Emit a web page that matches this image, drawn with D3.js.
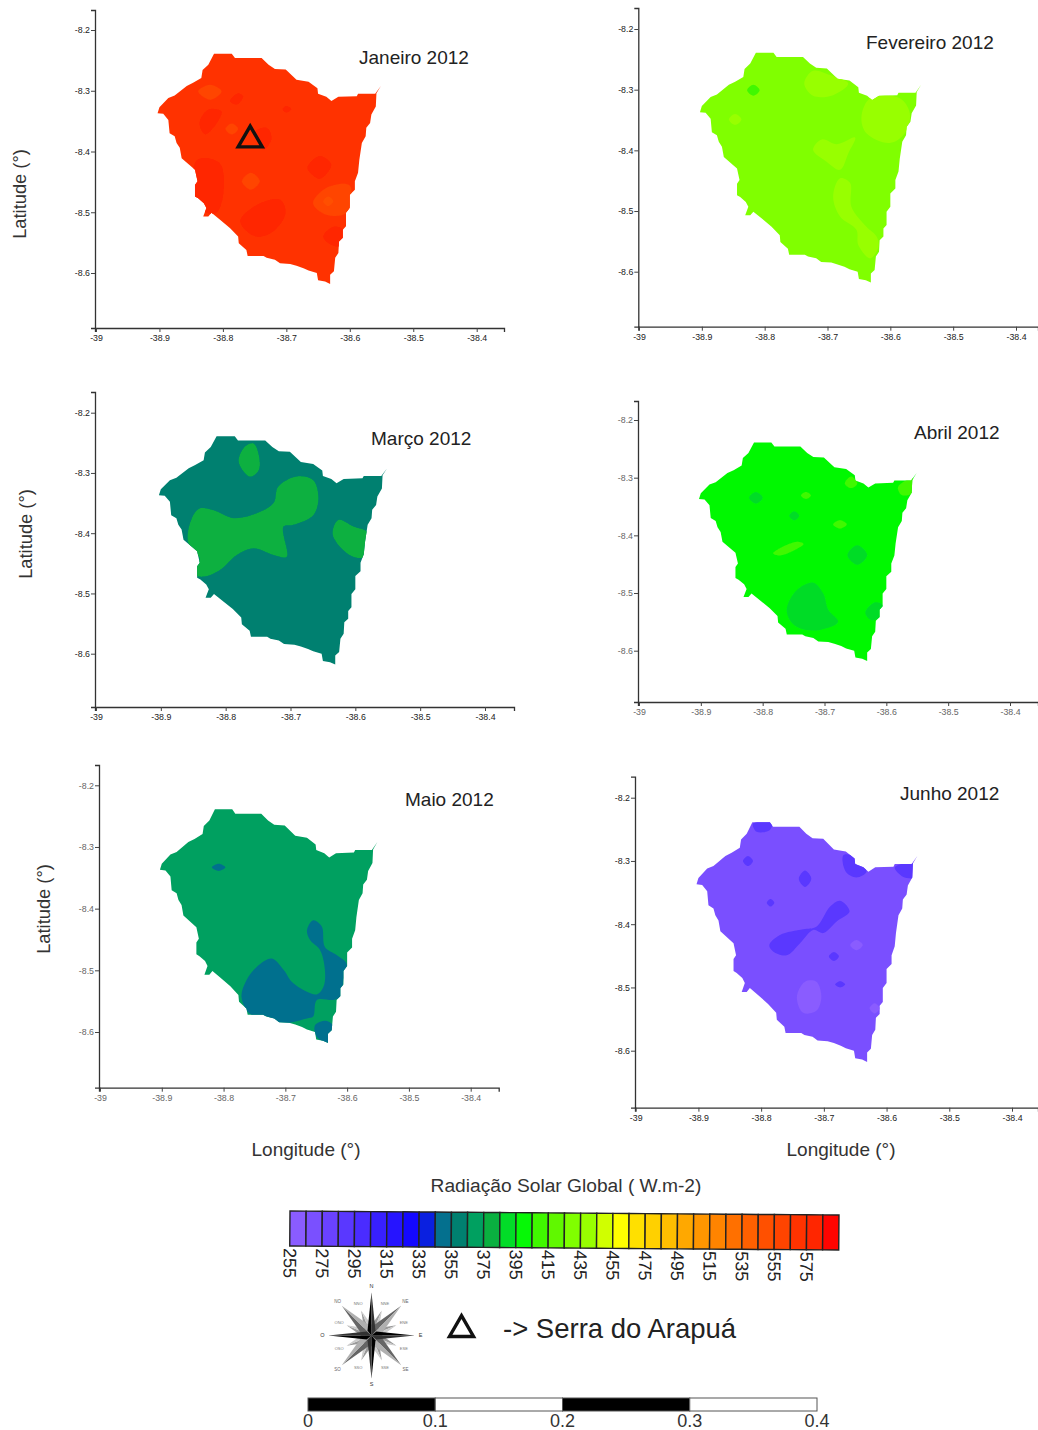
<!DOCTYPE html>
<html>
<head>
<meta charset="utf-8">
<script src="https://cdn.jsdelivr.net/npm/d3@7"></script>
<style>
body { margin: 0; background: #fff; }
text { font-family: "Liberation Sans", Arial, sans-serif; }
</style>
</head>
<body>
<div id="chart"></div>
<script>
var lonTicks = [-39, -38.9, -38.8, -38.7, -38.6, -38.5, -38.4];
var latTicks = [-8.2, -8.3, -8.4, -8.5, -8.6];

// municipality border, [lon, lat]
var outline = [
    [-38.814, -8.239], [-38.786, -8.239], [-38.781, -8.246], [-38.739, -8.246], [-38.728, -8.257],
    [-38.718, -8.264], [-38.701, -8.265], [-38.684, -8.282], [-38.665, -8.285], [-38.651, -8.296],
    [-38.650, -8.305], [-38.637, -8.310], [-38.629, -8.317], [-38.618, -8.310], [-38.589, -8.309],
    [-38.587, -8.305], [-38.560, -8.305], [-38.551, -8.292], [-38.558, -8.304], [-38.559, -8.326],
    [-38.566, -8.339], [-38.568, -8.353], [-38.574, -8.361], [-38.575, -8.375], [-38.581, -8.386],
    [-38.585, -8.414], [-38.587, -8.435], [-38.592, -8.449], [-38.592, -8.463], [-38.600, -8.471],
    [-38.600, -8.493], [-38.606, -8.501], [-38.606, -8.523], [-38.611, -8.529], [-38.611, -8.542],
    [-38.617, -8.548], [-38.618, -8.567], [-38.623, -8.575], [-38.625, -8.597], [-38.631, -8.603],
    [-38.631, -8.618], [-38.639, -8.614], [-38.650, -8.612], [-38.652, -8.600], [-38.665, -8.596],
    [-38.673, -8.592], [-38.684, -8.588], [-38.694, -8.585], [-38.710, -8.584], [-38.718, -8.578],
    [-38.731, -8.575], [-38.736, -8.572], [-38.761, -8.572], [-38.763, -8.562], [-38.775, -8.551],
    [-38.776, -8.540], [-38.789, -8.526], [-38.805, -8.512], [-38.818, -8.501], [-38.823, -8.507],
    [-38.831, -8.507], [-38.826, -8.493], [-38.830, -8.485], [-38.839, -8.477], [-38.844, -8.474],
    [-38.844, -8.455], [-38.840, -8.449], [-38.844, -8.430], [-38.865, -8.411], [-38.868, -8.394],
    [-38.873, -8.386], [-38.876, -8.375], [-38.884, -8.370], [-38.886, -8.348], [-38.894, -8.338],
    [-38.903, -8.337], [-38.900, -8.327], [-38.886, -8.312], [-38.876, -8.308], [-38.857, -8.292],
    [-38.847, -8.287], [-38.834, -8.279], [-38.832, -8.266], [-38.823, -8.257]
];

var monthNames = ["Janeiro 2012", "Fevereiro 2012", "Março 2012", "Abril 2012", "Maio 2012", "Junho 2012"];
var monthBase = [570, 430, 360, 400, 370, 270];

// contour patches for every month, value in W.m-2 and border as [lon, lat]
var janeiroPatches = [
    { value: 560, points: [[-38.839, -8.301], [-38.820, -8.290], [-38.802, -8.301], [-38.820, -8.315]] },
    { value: 580, points: [[-38.837, -8.353], [-38.823, -8.331], [-38.802, -8.334], [-38.815, -8.361], [-38.828, -8.372]] },
    { value: 580, points: [[-38.789, -8.317], [-38.776, -8.304], [-38.768, -8.309], [-38.778, -8.323]] },
    { value: 580, points: [[-38.706, -8.330], [-38.700, -8.325], [-38.692, -8.330], [-38.700, -8.336]] },
    { value: 560, points: [[-38.796, -8.363], [-38.786, -8.354], [-38.776, -8.363], [-38.786, -8.372]] },
    { value: 580, points: [[-38.749, -8.367], [-38.731, -8.361], [-38.723, -8.378], [-38.736, -8.397]] },
    { value: 580, points: [[-38.667, -8.427], [-38.647, -8.407], [-38.629, -8.422], [-38.647, -8.445]] },
    { value: 560, points: [[-38.770, -8.449], [-38.756, -8.435], [-38.742, -8.449], [-38.756, -8.463]] },
    { value: 580, points: [[-38.841, -8.414], [-38.805, -8.419], [-38.799, -8.468], [-38.810, -8.501], [-38.826, -8.501], [-38.844, -8.474]] },
    { value: 580, points: [[-38.773, -8.515], [-38.747, -8.488], [-38.710, -8.479], [-38.701, -8.501], [-38.721, -8.532], [-38.749, -8.540]] },
    { value: 560, points: [[-38.658, -8.485], [-38.637, -8.460], [-38.600, -8.456], [-38.605, -8.501], [-38.637, -8.504]] },
    { value: 550, points: [[-38.642, -8.482], [-38.634, -8.474], [-38.626, -8.482], [-38.634, -8.490]] },
    { value: 580, points: [[-38.642, -8.540], [-38.626, -8.524], [-38.610, -8.529], [-38.616, -8.556], [-38.634, -8.551]] }
];
var fevereiroPatches = [
    { value: 440, points: [[-38.737, -8.290], [-38.723, -8.269], [-38.696, -8.276], [-38.667, -8.290], [-38.691, -8.309], [-38.723, -8.310]] },
    { value: 410, points: [[-38.828, -8.301], [-38.818, -8.292], [-38.808, -8.301], [-38.818, -8.310]] },
    { value: 440, points: [[-38.857, -8.349], [-38.847, -8.340], [-38.837, -8.349], [-38.847, -8.358]] },
    { value: 440, points: [[-38.646, -8.345], [-38.632, -8.314], [-38.585, -8.314], [-38.569, -8.339], [-38.577, -8.372], [-38.601, -8.388], [-38.638, -8.372]] },
    { value: 440, points: [[-38.723, -8.399], [-38.709, -8.382], [-38.685, -8.390], [-38.656, -8.379], [-38.667, -8.405], [-38.680, -8.432], [-38.701, -8.419]] },
    { value: 440, points: [[-38.691, -8.476], [-38.680, -8.446], [-38.664, -8.454], [-38.662, -8.493], [-38.638, -8.526], [-38.622, -8.542], [-38.619, -8.559], [-38.632, -8.578], [-38.651, -8.556], [-38.654, -8.531], [-38.680, -8.509]] }
];
var marcoPatches = [
    { value: 380, points: [[-38.780, -8.279], [-38.770, -8.256], [-38.757, -8.251], [-38.749, -8.270], [-38.749, -8.295], [-38.762, -8.306], [-38.774, -8.295]] },
    { value: 380, points: [[-38.852, -8.375], [-38.840, -8.359], [-38.819, -8.362], [-38.788, -8.375], [-38.752, -8.367], [-38.726, -8.350], [-38.719, -8.323], [-38.690, -8.306], [-38.665, -8.312], [-38.657, -8.342], [-38.665, -8.370], [-38.696, -8.386], [-38.711, -8.389], [-38.706, -8.439], [-38.726, -8.436], [-38.757, -8.425], [-38.783, -8.436], [-38.809, -8.461], [-38.834, -8.472], [-38.847, -8.469], [-38.845, -8.453], [-38.840, -8.442], [-38.858, -8.414]] },
    { value: 380, points: [[-38.635, -8.400], [-38.626, -8.378], [-38.603, -8.389], [-38.580, -8.400], [-38.585, -8.439], [-38.603, -8.439], [-38.624, -8.422]] }
];
var abrilPatches = [
    { value: 390, points: [[-38.822, -8.335], [-38.811, -8.325], [-38.800, -8.335], [-38.811, -8.345]] },
    { value: 390, points: [[-38.757, -8.366], [-38.749, -8.358], [-38.741, -8.366], [-38.749, -8.374]] },
    { value: 390, points: [[-38.663, -8.434], [-38.647, -8.417], [-38.631, -8.434], [-38.647, -8.451]] },
    { value: 390, points: [[-38.761, -8.527], [-38.745, -8.495], [-38.718, -8.482], [-38.702, -8.501], [-38.694, -8.529], [-38.678, -8.550], [-38.707, -8.564], [-38.740, -8.561], [-38.756, -8.547]] },
    { value: 390, points: [[-38.634, -8.534], [-38.618, -8.516], [-38.606, -8.521], [-38.610, -8.541], [-38.624, -8.547]] },
    { value: 410, points: [[-38.783, -8.431], [-38.745, -8.411], [-38.734, -8.415], [-38.772, -8.435]] },
    { value: 410, points: [[-38.686, -8.381], [-38.675, -8.374], [-38.664, -8.381], [-38.675, -8.388]] },
    { value: 410, points: [[-38.738, -8.331], [-38.730, -8.325], [-38.722, -8.331], [-38.730, -8.337]] },
    { value: 410, points: [[-38.581, -8.316], [-38.556, -8.301], [-38.559, -8.327], [-38.575, -8.330]] },
    { value: 410, points: [[-38.667, -8.310], [-38.657, -8.298], [-38.647, -8.310], [-38.657, -8.318]] }
];
var maioPatches = [
    { value: 350, points: [[-38.819, -8.333], [-38.808, -8.327], [-38.797, -8.333], [-38.808, -8.339]] },
    { value: 350, points: [[-38.665, -8.435], [-38.655, -8.419], [-38.641, -8.429], [-38.636, -8.462], [-38.617, -8.475], [-38.601, -8.489], [-38.606, -8.516], [-38.611, -8.543], [-38.622, -8.548], [-38.649, -8.548], [-38.655, -8.575], [-38.665, -8.578], [-38.709, -8.586], [-38.730, -8.575], [-38.757, -8.571], [-38.771, -8.543], [-38.763, -8.516], [-38.746, -8.494], [-38.722, -8.481], [-38.703, -8.499], [-38.687, -8.521], [-38.649, -8.539], [-38.638, -8.526], [-38.636, -8.499], [-38.644, -8.467], [-38.660, -8.451]] },
    { value: 350, points: [[-38.652, -8.589], [-38.633, -8.582], [-38.622, -8.591], [-38.629, -8.617], [-38.649, -8.608]] }
];
var junhoPatches = [
    { value: 290, points: [[-38.829, -8.300], [-38.821, -8.292], [-38.813, -8.300], [-38.821, -8.308]] },
    { value: 290, points: [[-38.740, -8.328], [-38.730, -8.315], [-38.720, -8.328], [-38.730, -8.341]] },
    { value: 290, points: [[-38.791, -8.366], [-38.785, -8.360], [-38.779, -8.366], [-38.785, -8.372]] },
    { value: 290, points: [[-38.787, -8.433], [-38.770, -8.417], [-38.733, -8.408], [-38.712, -8.404], [-38.690, -8.372], [-38.674, -8.363], [-38.659, -8.380], [-38.680, -8.396], [-38.701, -8.414], [-38.717, -8.409], [-38.738, -8.430], [-38.759, -8.449], [-38.781, -8.443]] },
    { value: 290, points: [[-38.692, -8.451], [-38.684, -8.444], [-38.676, -8.451], [-38.684, -8.458]] },
    { value: 290, points: [[-38.682, -8.495], [-38.674, -8.490], [-38.666, -8.495], [-38.674, -8.500]] },
    { value: 290, points: [[-38.813, -8.241], [-38.783, -8.240], [-38.786, -8.251], [-38.807, -8.254]] },
    { value: 290, points: [[-38.669, -8.291], [-38.651, -8.293], [-38.632, -8.317], [-38.648, -8.326], [-38.665, -8.317]] },
    { value: 290, points: [[-38.587, -8.310], [-38.558, -8.304], [-38.555, -8.326], [-38.574, -8.325]] },
    { value: 260, points: [[-38.743, -8.515], [-38.730, -8.491], [-38.712, -8.491], [-38.704, -8.515], [-38.712, -8.537], [-38.733, -8.540]] },
    { value: 260, points: [[-38.658, -8.433], [-38.648, -8.425], [-38.638, -8.433], [-38.648, -8.441]] },
    { value: 260, points: [[-38.627, -8.533], [-38.619, -8.525], [-38.611, -8.533], [-38.619, -8.541]] }
];
var monthPatches = [janeiroPatches, fevereiroPatches, marcoPatches, abrilPatches, maioPatches, junhoPatches];

// the triangle in January, Serra do Arapuá
var serraLocation = [-38.757, -8.381];

var legendValues = d3.range(255, 595, 10);
var legendLabels = d3.range(255, 595, 20);
var legendColors = [
    "#8A5CFF", "#7A50FF", "#6A42FF", "#5A38FF", "#4A2CFF", "#3820FF", "#2614FF", "#1408FF", "#0A20E0",
    "#04708E", "#008070", "#00A060", "#0AB040", "#02DC28", "#06F806", "#40F800", "#60F800", "#80FF00",
    "#98FF00", "#D0FF00", "#FFFF00", "#FFE000", "#FFD000", "#FFBE00", "#FFA800", "#FF9600", "#FF8400",
    "#FF7000", "#FF6000", "#FF5000", "#FF4400", "#FF3300", "#FF2600", "#FF0400"
];

var scaleBarStops = [0, 0.1, 0.2, 0.3, 0.4];

var compassMain = [0, 90, 180, 270];
var compassDiagonal = [45, 135, 225, 315];
var compassMinor = [22.5, 67.5, 112.5, 157.5, 202.5, 247.5, 292.5, 337.5];
var compassMainLabels = ["N", "E", "S", "O"];
var compassDiagonalLabels = ["NE", "SE", "SO", "NO"];
var compassMinorLabels = ["NNE", "ENE", "ESE", "SSE", "SSO", "OSO", "ONO", "NNO"];

// where each panel sits on the page: tick -39 and -38.4, tick -8.2 and -8.6, axis ends, title
var panelBoxes = [
    { x39: 96, x384: 476.7, y82: 30, y86: 273, left: 95, right: 504, top: 10, bottom: 328, titleX: 359, titleY: 64, tick: "#222" },
    { x39: 639, x384: 1016, y82: 29, y86: 271.7, left: 638.3, right: 1038, top: 8, bottom: 326.7, titleX: 866, titleY: 49, tick: "#222" },
    { x39: 96, x384: 485, y82: 412.7, y86: 653.7, left: 95, right: 514, top: 392, bottom: 707, titleX: 371, titleY: 445, tick: "#222" },
    { x39: 639, x384: 1010, y82: 420, y86: 650.7, left: 638, right: 1038, top: 401, bottom: 702, titleX: 914, titleY: 439, tick: "#666" },
    { x39: 100, x384: 470.7, y82: 785.3, y86: 1032, left: 99, right: 498.7, top: 765, bottom: 1087.7, titleX: 405, titleY: 806, tick: "#666" },
    { x39: 635.7, x384: 1012, y82: 797.7, y86: 1050.7, left: 635, right: 1038, top: 776.7, bottom: 1107.7, titleX: 900, titleY: 800, tick: "#222" }
];

var color = d3.scaleQuantize().domain([255, 595]).range(legendColors);

var svg = d3.select("#chart").append("svg")
    .attr("width", 1038)
    .attr("height", 1430);

var defs = svg.append("defs");

// the source is a soft scan, edges are not crisp
defs.append("filter").attr("id", "soft")
    .append("feGaussianBlur").attr("stdDeviation", 0.6);

svg.append("rect").attr("width", 1038).attr("height", 1430).attr("fill", "#fff");

panelBoxes.forEach(function (box, i) {
    // scales reach to the ends of the axes, ticks stay where they are in the picture
    var xTick = d3.scaleLinear().domain([-39, -38.4]).range([box.x39, box.x384]);
    var yTick = d3.scaleLinear().domain([-8.2, -8.6]).range([box.y82, box.y86]);
    var x = d3.scaleLinear().domain([xTick.invert(box.left), xTick.invert(box.right)]).range([box.left, box.right]);
    var y = d3.scaleLinear().domain([yTick.invert(box.top), yTick.invert(box.bottom)]).range([box.top, box.bottom]);

    var border = d3.line()
        .x(function (d) { return x(d[0]); })
        .y(function (d) { return y(d[1]); });
    var blob = d3.line()
        .x(function (d) { return x(d[0]); })
        .y(function (d) { return y(d[1]); })
        .curve(d3.curveCatmullRomClosed.alpha(0.5));

    var g = svg.append("g");

    defs.append("clipPath").attr("id", "clip" + i)
        .append("path").attr("d", border(outline) + "Z");

    var map = g.append("g").attr("filter", "url(#soft)");
    map.append("path")
        .attr("d", border(outline) + "Z")
        .attr("fill", color(monthBase[i]));

    map.append("g").attr("clip-path", "url(#clip" + i + ")")
        .selectAll("path")
        .data(monthPatches[i])
        .enter().append("path")
        .attr("d", function (d) { return blob(d.points); })
        .attr("fill", function (d) { return color(d.value); });

    var xAxis = g.append("g")
        .attr("transform", "translate(0," + box.bottom + ")")
        .call(d3.axisBottom(x).tickValues(lonTicks).tickSize(4).tickPadding(3).tickFormat(function (d) { return d; }));
    var yAxis = g.append("g")
        .attr("transform", "translate(" + box.left + ",0)")
        .call(d3.axisLeft(y).tickValues(latTicks).tickSize(4).tickPadding(1).tickFormat(function (d) { return d; }));

    [xAxis, yAxis].forEach(function (axis) {
        axis.select(".domain").attr("stroke", "#333").attr("stroke-width", 1.3);
        axis.selectAll(".tick line").attr("stroke", "#444");
        axis.selectAll("text")
            .attr("fill", box.tick)
            .attr("font-size", 8.8)
            .style("font-family", "'Liberation Sans', Arial, sans-serif");
    });

    g.append("text")
        .text(monthNames[i])
        .attr("x", box.titleX)
        .attr("y", box.titleY)
        .attr("font-size", 19)
        .attr("fill", "#222");

    if (i == 0) {
        g.append("path")
            .attr("d", d3.symbol().type(d3.symbolTriangle).size(250)())
            .attr("transform", "translate(" + x(serraLocation[0]) + "," + y(serraLocation[1]) + ")")
            .attr("fill", "none")
            .attr("stroke", "#111")
            .attr("stroke-width", 3.4);
    }
});

// axis titles
var latitudeTitles = [[20, 194], [26, 534], [44, 909]];
latitudeTitles.forEach(function (d) {
    svg.append("text")
        .text("Latitude (°)")
        .attr("transform", "translate(" + (d[0] + 6) + "," + d[1] + ") rotate(-90)")
        .attr("text-anchor", "middle")
        .attr("font-size", 18.3)
        .attr("fill", "#333");
});

var longitudeTitles = [306, 841];
longitudeTitles.forEach(function (d) {
    svg.append("text")
        .text("Longitude (°)")
        .attr("x", d)
        .attr("y", 1156)
        .attr("text-anchor", "middle")
        .attr("font-size", 19)
        .attr("fill", "#333");
});

// colour legend, it is slightly tilted in the source
var legendScale = d3.scaleLinear().domain([255, 595]).range([290, 839]);
var legend = svg.append("g").attr("transform", "rotate(0.42,290,1211)");

svg.append("text")
    .text("Radiação Solar Global ( W.m-2)")
    .attr("x", 566)
    .attr("y", 1192)
    .attr("text-anchor", "middle")
    .attr("font-size", 19.2)
    .attr("fill", "#333");

legend.selectAll("rect")
    .data(legendValues)
    .enter().append("rect")
    .attr("x", function (d) { return legendScale(d); })
    .attr("y", 1211)
    .attr("width", function (d) { return legendScale(d + 10) - legendScale(d); })
    .attr("height", 35)
    .attr("fill", function (d) { return color(d + 5); })
    .attr("stroke", "#222")
    .attr("stroke-width", 1.4);

legend.selectAll("text")
    .data(legendLabels)
    .enter().append("text")
    .text(function (d) { return d; })
    .attr("transform", function (d) { return "translate(" + (legendScale(d) - 6) + ",1248) rotate(90)"; })
    .attr("font-size", 18)
    .attr("fill", "#222");

// compass
var compass = svg.append("g")
    .attr("transform", "translate(371.5,1335.5)")
    .attr("filter", "url(#soft)");

function drawArms(angles, length, width, dark, light) {
    angles.forEach(function (a) {
        var arm = compass.append("g").attr("transform", "rotate(" + a + ")");
        arm.append("path")
            .attr("d", "M0,0L" + (-width) + "," + (-width * 1.2) + "L0," + (-length) + "Z")
            .attr("fill", dark);
        arm.append("path")
            .attr("d", "M0,0L" + width + "," + (-width * 1.2) + "L0," + (-length) + "Z")
            .attr("fill", light);
    });
}
drawArms(compassMinor, 27, 5, "#999", "#ccc");
drawArms(compassDiagonal, 42, 6, "#666", "#b0b0b0");
drawArms(compassMain, 43, 4, "#000", "#333");

function drawCompassLabels(angles, labels, radius, size, fill) {
    angles.forEach(function (a, i) {
        var r = a * Math.PI / 180;
        svg.append("text")
            .text(labels[i])
            .attr("x", 371.5 + radius * Math.sin(r))
            .attr("y", 1335.5 - radius * Math.cos(r) + size * 0.35)
            .attr("text-anchor", "middle")
            .attr("font-size", size)
            .attr("fill", fill);
    });
}
drawCompassLabels(compassMain, compassMainLabels, 49, 5.5, "#333");
drawCompassLabels(compassDiagonal, compassDiagonalLabels, 48, 4.5, "#666");
drawCompassLabels(compassMinor, compassMinorLabels, 35, 4, "#777");

// Serra do Arapuá key
svg.append("path")
    .attr("d", d3.symbol().type(d3.symbolTriangle).size(250)())
    .attr("transform", "translate(461.5,1329.5)")
    .attr("fill", "none")
    .attr("stroke", "#111")
    .attr("stroke-width", 3.4);

svg.append("text")
    .text("-> Serra do Arapuá")
    .attr("x", 503)
    .attr("y", 1338)
    .attr("font-size", 27.5)
    .attr("fill", "#222");

// scale bar
var barScale = d3.scaleLinear().domain([0, 0.4]).range([308, 817]);

svg.selectAll(".bar")
    .data(d3.pairs(scaleBarStops))
    .enter().append("rect")
    .attr("class", "bar")
    .attr("x", function (d) { return barScale(d[0]); })
    .attr("y", 1398)
    .attr("width", function (d) { return barScale(d[1]) - barScale(d[0]); })
    .attr("height", 13)
    .attr("fill", function (d, i) { return i % 2 == 0 ? "#000" : "#fff"; })
    .attr("stroke", "#555")
    .attr("stroke-width", 1);

svg.selectAll(".barlabel")
    .data(scaleBarStops)
    .enter().append("text")
    .attr("class", "barlabel")
    .text(function (d) { return d; })
    .attr("x", function (d) { return barScale(d); })
    .attr("y", 1427)
    .attr("text-anchor", "middle")
    .attr("font-size", 18)
    .attr("fill", "#333");
</script>
</body>
</html>
